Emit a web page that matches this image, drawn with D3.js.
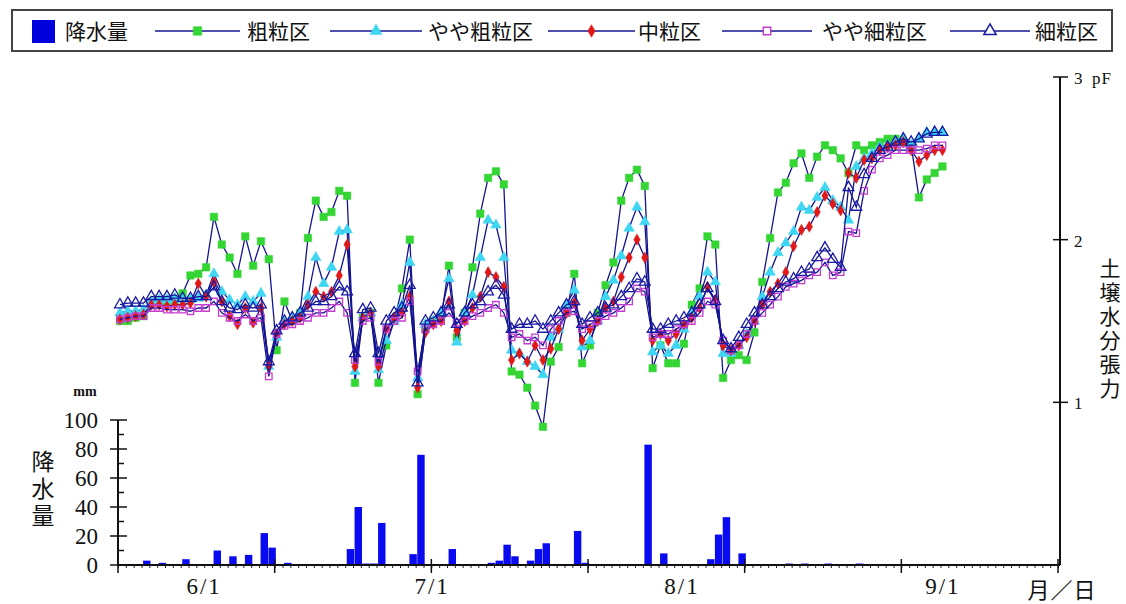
<!DOCTYPE html>
<html>
  <head>
    <meta charset="utf-8" />
    <style>
      body {
        margin: 0;
        background: #fff;
      }
      svg text {
        fill: #111;
      }
      .jp {
        font-family: "Noto Sans CJK JP", sans-serif;
      }
      .num {
        font-family: "Liberation Serif", serif;
      }
      .vert {
        writing-mode: vertical-rl;
        text-orientation: upright;
      }
    </style>
  </head>
  <body>
    <svg id="chart"></svg>

    <script src="https://d3js.org/d3.v7.min.js"></script>
    <script>
      let width = 1126,
        height = 604;

      // daily pF readings, day 0 = first day of record
      let coarse = [
        1.5, 1.5, 1.52, 1.53, 1.6, 1.62, 1.62, 1.63, 1.67, 1.78, 1.79, 1.83, 2.14, 1.97, 1.89, 1.79,
        2.02, 1.84, 1.99, 1.88, 1.32, 1.62, 1.5, 1.55, 2.01, 2.24, 2.14, 2.17, 2.3, 2.27, 1.12, 1.52,
        1.55, 1.12, 1.35, 1.5, 1.7, 2.0, 1.05, 1.45, 1.5, 1.52, 1.84, 1.4, 1.55, 1.83, 2.16, 2.38,
        2.42, 2.34, 1.19, 1.17, 1.09, 0.98, 0.85, 1.25, 1.34, 1.55, 1.79, 1.24, 1.35, 1.55, 1.72, 1.86,
        2.24, 2.38, 2.43, 2.33, 1.21, 1.35, 1.24, 1.24, 1.36, 1.6, 1.7, 2.02, 1.97, 1.15, 1.26, 1.29,
        1.26, 1.43, 1.74, 2.01, 2.29, 2.35, 2.47, 2.53, 2.38, 2.51, 2.58, 2.55, 2.5, 2.41, 2.58, 2.55,
        2.58, 2.6, 2.62, 2.62, 2.6, 2.58, 2.26, 2.37, 2.41, 2.45,
      ];
      let ratherCoarse = [
        1.55, 1.56, 1.56, 1.57, 1.62, 1.63, 1.63, 1.64, 1.63, 1.63, 1.64, 1.66, 1.79, 1.68, 1.63, 1.6,
        1.65, 1.62, 1.67, 1.22, 1.4, 1.5, 1.52, 1.55, 1.65, 1.89, 1.73, 1.83, 2.05, 2.06, 1.19, 1.52,
        1.55, 1.2, 1.38, 1.5, 1.6, 1.86, 1.15, 1.48, 1.5, 1.55, 1.76, 1.37, 1.55, 1.66, 1.89, 2.12,
        2.09, 1.89, 1.32, 1.3, 1.25, 1.22, 1.17, 1.4, 1.45, 1.6, 1.69, 1.34, 1.38, 1.5, 1.65, 1.75,
        1.9, 2.07, 2.2, 2.11, 1.31, 1.35, 1.3, 1.35, 1.45, 1.55, 1.65, 1.8, 1.74, 1.3, 1.3, 1.35,
        1.42, 1.5, 1.65, 1.8, 1.92, 1.98, 2.05, 2.2, 2.18, 2.26, 2.32, 2.24, 2.2, 2.12, 2.45, 2.5,
        2.53, 2.57, 2.58, 2.6, 2.62, 2.58, 2.62, 2.66, 2.66, 2.66,
      ];
      let medium = [
        1.51, 1.52, 1.53, 1.54, 1.6, 1.6, 1.59, 1.6, 1.6, 1.61, 1.73, 1.65, 1.74, 1.62, 1.53, 1.48,
        1.58, 1.49, 1.58, 1.22, 1.42, 1.48, 1.5, 1.52, 1.6, 1.68, 1.65, 1.68, 1.78, 1.97, 1.22, 1.52,
        1.55, 1.22, 1.45, 1.52, 1.55, 1.65, 1.09, 1.43, 1.48, 1.5, 1.62, 1.44, 1.5, 1.58, 1.65, 1.8,
        1.77, 1.71, 1.26, 1.3, 1.25, 1.35, 1.26, 1.33, 1.45, 1.55, 1.61, 1.38, 1.45, 1.5, 1.58, 1.62,
        1.77, 1.89, 2.0, 1.89, 1.38, 1.42, 1.38, 1.42, 1.48, 1.52, 1.58, 1.71, 1.63, 1.35, 1.32, 1.35,
        1.4, 1.5, 1.6, 1.68, 1.73, 1.8, 1.96, 2.06, 2.08, 2.17, 2.27, 2.22, 2.18, 2.41, 2.38, 2.49,
        2.5, 2.55, 2.57, 2.58, 2.6, 2.55, 2.48, 2.52, 2.55, 2.55,
      ];
      let ratherFine = [
        1.51, 1.52, 1.53, 1.53, 1.58, 1.58, 1.57, 1.57, 1.57, 1.56, 1.58, 1.58, 1.62, 1.55, 1.52, 1.5,
        1.54, 1.5, 1.52, 1.16, 1.42, 1.47, 1.48, 1.5, 1.52, 1.55, 1.55, 1.58, 1.62, 1.55, 1.26, 1.5,
        1.52, 1.25, 1.45, 1.5, 1.52, 1.62, 1.19, 1.45, 1.48, 1.5, 1.55, 1.49, 1.5, 1.53, 1.55, 1.58,
        1.6, 1.55, 1.4, 1.42, 1.38, 1.4, 1.35, 1.45, 1.5, 1.55, 1.56, 1.45, 1.48, 1.5, 1.53, 1.55,
        1.58, 1.62, 1.7, 1.68, 1.4, 1.42, 1.42, 1.45, 1.48, 1.5, 1.55, 1.62, 1.6, 1.38, 1.32, 1.35,
        1.42, 1.5, 1.55, 1.6, 1.65, 1.71, 1.73, 1.75, 1.78, 1.8, 1.86, 1.78, 1.8, 2.05, 2.04, 2.3,
        2.43, 2.5, 2.52, 2.55, 2.55, 2.55, 2.55, 2.56, 2.58, 2.58,
      ];
      let fine = [
        1.6, 1.61, 1.61, 1.61, 1.65, 1.65, 1.65, 1.66, 1.64, 1.64, 1.65, 1.65, 1.71, 1.62, 1.58, 1.57,
        1.6, 1.58, 1.6, 1.25, 1.44, 1.5, 1.52, 1.55, 1.58, 1.62, 1.62, 1.65, 1.71, 1.68, 1.3, 1.57,
        1.58, 1.3, 1.5, 1.55, 1.58, 1.72, 1.12, 1.5, 1.52, 1.55, 1.6, 1.48, 1.55, 1.6, 1.62, 1.68,
        1.72, 1.66, 1.45, 1.48, 1.48, 1.5, 1.45, 1.5, 1.55, 1.6, 1.62, 1.48, 1.52, 1.55, 1.58, 1.6,
        1.65, 1.7, 1.76, 1.74, 1.45, 1.45, 1.48, 1.5, 1.52, 1.55, 1.6, 1.7, 1.62, 1.38, 1.33, 1.4,
        1.48, 1.55, 1.6, 1.65, 1.7, 1.74, 1.76, 1.8, 1.82, 1.89, 1.95, 1.88, 1.83, 2.32, 2.2, 2.4,
        2.5, 2.55, 2.57, 2.6, 2.62, 2.6, 2.62, 2.65, 2.66, 2.66,
      ];

      // rainfall (mm) on the days it rained
      let rainDays = [
        3, 5, 8, 12, 14, 16, 18, 19, 21, 29, 30, 31, 32, 33, 37, 38, 42, 47, 48, 49, 50, 52, 53, 54,
        58, 59, 67, 69, 75, 76, 77, 79, 85, 87, 90, 94,
      ];
      let rainMm = [
        3, 1.5, 4, 10, 6, 7, 22, 12, 1.5, 11, 40, 1, 1, 29, 7.5, 76, 11, 1.5, 3, 14, 6, 3, 11, 15,
        23.5, 1.5, 83, 8, 4, 21, 33, 8, 1, 1, 1, 1,
      ];

      let monthLabels = ["6/1", "7/1", "8/1", "9/1"];
      let monthLabelDays = [11, 40.1, 72, 105.3];
      let rainTicks = [0, 20, 40, 60, 80, 100];
      let pfTicks = [1, 2, 3];

      let seriesNames = ["粗粒区", "やや粗粒区", "中粒区", "やや細粒区", "細粒区"];
      let seriesValues = [coarse, ratherCoarse, medium, ratherFine, fine];
      let seriesFill = ["#33d633", "#3fd6f2", "#e01818", "none", "none"];
      let seriesStroke = ["#33d633", "#3fd6f2", "#e01818", "#c43cd0", "#1a1aa8"];
      let seriesShape = [d3.symbolSquare, d3.symbolTriangle, d3.symbolDiamond, d3.symbolSquare, d3.symbolTriangle];
      let seriesSize = [56, 48, 36, 42, 50];

      let lineColor = "#141490";
      let barColor = "#0a0af0";

      let svg = d3.select("#chart").attr("width", width).attr("height", height);

      let x = d3.scaleLinear().domain([0, 120]).range([118, 1058]);
      let yPf = d3.scaleLinear().domain([0, 3]).range([565, 77]);
      let yRain = d3.scaleLinear().domain([0, 100]).range([565, 420]);
      let dayW = x(1) - x(0);

      // rainfall bars
      svg
        .append("g")
        .selectAll("rect")
        .data(rainDays.map((d, i) => ({ day: d, mm: rainMm[i] })))
        .enter()
        .append("rect")
        .attr("x", (d) => x(d.day + 0.2))
        .attr("width", dayW - 0.4)
        .attr("y", (d) => yRain(d.mm))
        .attr("height", (d) => yRain(0) - yRain(d.mm))
        .attr("fill", barColor);

      // bottom axis (days)
      let bottom = svg.append("g").attr("transform", "translate(0,565)");
      bottom
        .call(d3.axisBottom(x).tickValues(d3.range(0, 121, 1)).tickSize(3).tickFormat(""))
        .call((g) => g.select(".domain").remove())
        .selectAll("line")
        .attr("stroke", "#222")
        .attr("stroke-width", 1);
      bottom
        .append("g")
        .selectAll("line")
        .data(d3.range(0, 121, 20))
        .enter()
        .append("line")
        .attr("x1", (d) => x(d))
        .attr("x2", (d) => x(d))
        .attr("y1", -6)
        .attr("y2", 8)
        .attr("stroke", "#111")
        .attr("stroke-width", 1.5);
      bottom
        .append("line")
        .attr("x1", x(0))
        .attr("x2", x(120) + 2)
        .attr("stroke", "#111")
        .attr("stroke-width", 2);
      bottom
        .append("g")
        .selectAll("text")
        .data(monthLabels)
        .enter()
        .append("text")
        .attr("class", "num")
        .attr("x", (d, i) => x(monthLabelDays[i]))
        .attr("y", 29)
        .attr("text-anchor", "middle")
        .style("font-size", "23px")
        .style("letter-spacing", "2px")
        .text((d) => d);

      // left rainfall axis
      let left = svg.append("g").attr("transform", "translate(118,0)");
      left
        .append("line")
        .attr("y1", yRain(100))
        .attr("y2", yRain(0))
        .attr("stroke", "#111")
        .attr("stroke-width", 2);
      left
        .append("g")
        .selectAll("line")
        .data(d3.range(0, 101, 10))
        .enter()
        .append("line")
        .attr("x1", (d) => (d % 20 == 0 ? -8 : 0))
        .attr("x2", (d) => (d % 20 == 0 ? 9 : 6))
        .attr("y1", (d) => yRain(d))
        .attr("y2", (d) => yRain(d))
        .attr("stroke", "#111")
        .attr("stroke-width", 1.5);
      left
        .append("g")
        .selectAll("text")
        .data(rainTicks)
        .enter()
        .append("text")
        .attr("class", "num")
        .attr("x", -20)
        .attr("y", (d) => yRain(d) + 8)
        .attr("text-anchor", "end")
        .style("font-size", "23px")
        .text((d) => d);
      svg
        .append("text")
        .attr("class", "num")
        .attr("x", 85)
        .attr("y", 396)
        .attr("text-anchor", "middle")
        .style("font-size", "14px")
        .style("font-weight", "bold")
        .text("mm");
      // vertical titles
      svg
        .append("text")
        .attr("class", "jp vert")
        .attr("x", 43)
        .attr("y", 450)
        .style("font-size", "23px")
        .style("letter-spacing", "4px")
        .text("降水量");

      // right pF axis
      let right = svg.append("g").attr("transform", "translate(1060,0)");
      right
        .append("line")
        .attr("y1", yPf(3))
        .attr("y2", yPf(0))
        .attr("stroke", "#111")
        .attr("stroke-width", 2);
      right
        .append("g")
        .selectAll("line")
        .data(pfTicks)
        .enter()
        .append("line")
        .attr("x1", -7)
        .attr("x2", 8)
        .attr("y1", (d) => yPf(d))
        .attr("y2", (d) => yPf(d))
        .attr("stroke", "#111")
        .attr("stroke-width", 1.5);
      right
        .append("g")
        .selectAll("text")
        .data(pfTicks)
        .enter()
        .append("text")
        .attr("class", "num")
        .attr("x", 14)
        .attr("y", (d) => yPf(d) + 7)
        .style("font-size", "17px")
        .text((d) => d);
      right
        .append("text")
        .attr("class", "num")
        .attr("x", 32)
        .attr("y", yPf(3) + 7)
        .style("font-size", "17px")
        .style("letter-spacing", "1px")
        .text("pF");
      svg
        .append("text")
        .attr("class", "jp vert")
        .attr("x", 1110)
        .attr("y", 258)
        .style("font-size", "21px")
        .style("letter-spacing", "3px")
        .text("土壌水分張力");
      svg
        .append("text")
        .attr("class", "jp")
        .attr("x", 1062)
        .attr("y", 598)
        .attr("text-anchor", "middle")
        .style("font-size", "22px")
        .style("letter-spacing", "1px")
        .text("月／日");

      // pF lines with markers
      let line = d3
        .line()
        .x((d, i) => x(i + 0.25))
        .y((d) => yPf(d));

      seriesValues.forEach((vals, s) => {
        let g = svg.append("g");
        g.append("path")
          .datum(vals)
          .attr("d", line)
          .attr("fill", "none")
          .attr("stroke", lineColor)
          .attr("stroke-width", 1.3);
        g.selectAll("path.pt")
          .data(vals)
          .enter()
          .append("path")
          .attr("class", "pt")
          .attr("d", d3.symbol().type(seriesShape[s]).size(seriesSize[s]))
          .attr("transform", (d, i) => "translate(" + x(i + 0.25) + "," + yPf(d) + ")")
          .attr("fill", seriesFill[s])
          .attr("stroke", seriesStroke[s])
          .attr("stroke-width", seriesFill[s] == "none" ? 1.3 : 0.5);
      });

      // legend
      let legend = svg.append("g");
      legend
        .append("rect")
        .attr("x", 12)
        .attr("y", 10)
        .attr("width", 1100)
        .attr("height", 41)
        .attr("fill", "#fff")
        .attr("stroke", "#444")
        .attr("stroke-width", 2);
      legend
        .append("rect")
        .attr("x", 32)
        .attr("y", 20)
        .attr("width", 23)
        .attr("height", 23)
        .attr("fill", "#0000dd");
      legend
        .append("text")
        .attr("class", "jp")
        .attr("x", 65)
        .attr("y", 39)
        .style("font-size", "21px")
        .text("降水量");

      let legendLineX = [155, 330, 548, 722, 950];
      let legendLineW = [85, 92, 87, 90, 80];
      let legendTextX = [247, 428, 638, 822, 1035];
      seriesNames.forEach((name, s) => {
        let x0 = legendLineX[s],
          w = legendLineW[s];
        legend
          .append("line")
          .attr("x1", x0)
          .attr("x2", x0 + w)
          .attr("y1", 31)
          .attr("y2", 31)
          .attr("stroke", lineColor)
          .attr("stroke-width", 1.5);
        legend
          .append("path")
          .attr("d", d3.symbol().type(seriesShape[s]).size(seriesSize[s] * 1.3))
          .attr("transform", "translate(" + (x0 + w / 2) + ",31)")
          .attr("fill", seriesFill[s] == "none" ? "#fff" : seriesFill[s])
          .attr("stroke", seriesStroke[s])
          .attr("stroke-width", seriesFill[s] == "none" ? 1.5 : 0.5);
        legend
          .append("text")
          .attr("class", "jp")
          .attr("x", legendTextX[s])
          .attr("y", 39)
          .style("font-size", "21px")
          .text(name);
      });
    </script>
  </body>
</html>
